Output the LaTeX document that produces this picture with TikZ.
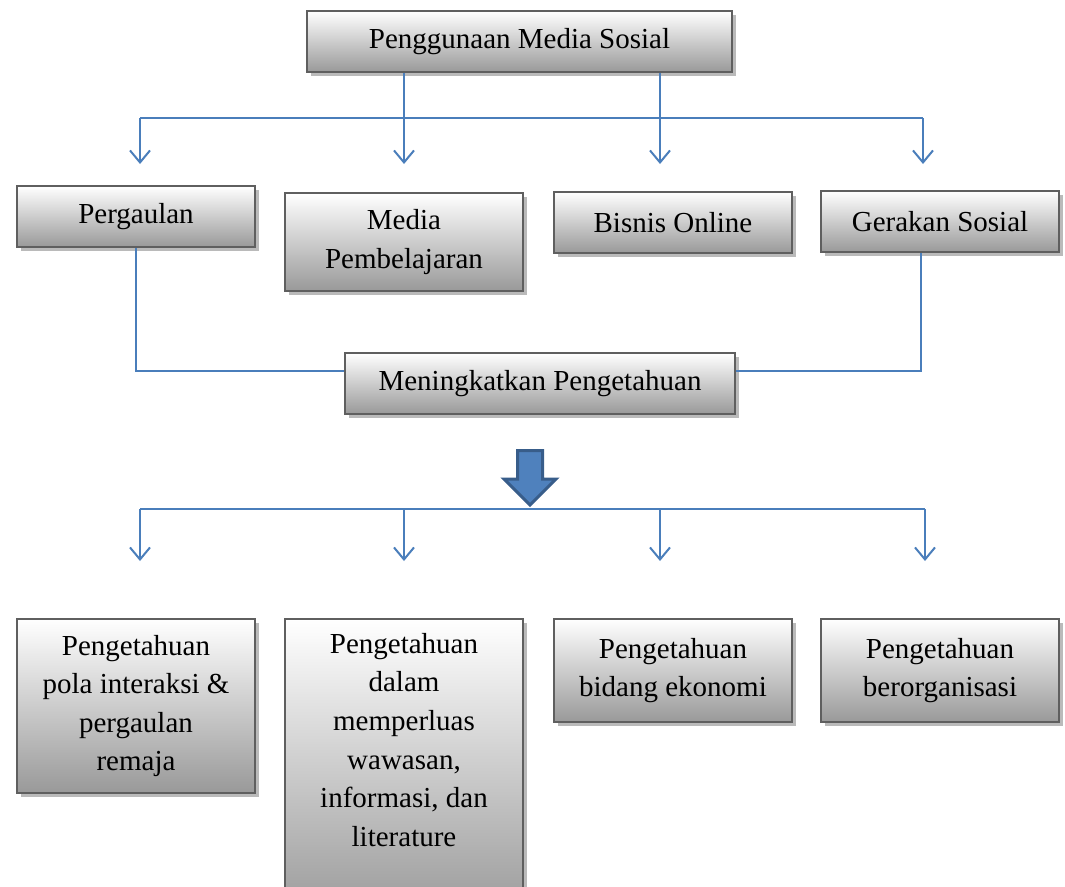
\documentclass[tikz,border=0pt]{standalone}
\usepackage{fontspec}
\setmainfont{Liberation Serif}
\usetikzlibrary{shadows,arrows.meta,calc}
\definecolor{lineblue}{HTML}{4A7EBB}
\definecolor{arrowfill}{HTML}{4F81BD}
\definecolor{arrowedge}{HTML}{385D8A}
\definecolor{boxedge}{HTML}{5F5F5F}
\definecolor{boxbot}{HTML}{999999}
\begin{document}
\begin{tikzpicture}[x=1pt,y=-1pt,
  boxfont/.style={font=\fontsize{29}{38.6}\selectfont},
  box/.style={draw=boxedge, line width=2pt, top color=white, bottom color=boxbot,
    drop shadow={shadow xshift=4pt, shadow yshift=-4pt, fill=black!27, opacity=1},
    minimum width=238pt, align=center, inner sep=4pt, boxfont},
  conn/.style={draw=lineblue, line width=2pt},
  arr/.style={conn, -{Straight Barb[length=12pt,width=20pt]}},
  fatarrow/.style={fill=arrowfill, draw=arrowedge, line width=3pt, line join=miter}
]
\useasboundingbox (0,0) rectangle (1065,886);
\clip (0,0) rectangle (1065,886);

% boxes
\node[box, minimum width=425pt, minimum height=61pt] (top) at (519.5,41.5) {Penggunaan Media Sosial};
\node[box, minimum height=61pt] (perg) at (136,216.5) {Pergaulan};
\node[box, minimum height=98pt] (media) at (404,242) {Media\\Pembelajaran};
\node[box, minimum height=61pt] (bisnis) at (673,222.5) {Bisnis Online};
\node[box, minimum height=61pt] (gerak) at (940,221.5) {Gerakan Sosial};
\node[box, minimum width=390pt, minimum height=61pt] (mening) at (540,383.5) {Meningkatkan Pengetahuan};

\node[box, minimum height=174pt, anchor=north] (k1) at (136,618) {Pengetahuan\\pola interaksi \&\\pergaulan\\remaja};
\node[box, minimum height=300pt, anchor=north] (k2) at (404,618) {};
\node[align=center, inner sep=4pt, boxfont, anchor=north] (t2) at (404,629) {Pengetahuan\\dalam\\memperluas\\wawasan,\\informasi, dan\\literature};
\node[box, minimum height=103pt, anchor=north] (k3) at (673,618) {Pengetahuan\\bidang ekonomi};
\node[box, minimum height=103pt, anchor=north] (k4) at (940,618) {Pengetahuan\\berorganisasi};

% top branching
\coordinate (h1) at (140,118);
\coordinate (h4) at (923,118);
\coordinate (a1) at (140,164);
\coordinate (a2) at (404,164);
\coordinate (a3) at (660,164);
\coordinate (a4) at (923,164);
\draw[conn] (h1) -- (h4);
\draw[arr] (h1) -- (a1);
\draw[arr] (top.south -| a2) -- (a2);
\draw[arr] (top.south -| a3) -- (a3);
\draw[arr] (h4) -- (a4);

% links into Meningkatkan Pengetahuan
\path (mening.west) ++(0,-12.5) coordinate (ml);
\path (mening.east) ++(0,-12.5) coordinate (mr);
\path (gerak.south) ++(-19,0) coordinate (gs);
\draw[conn] (perg.south) |- (ml);
\draw[conn] (gs) |- (mr);

% fat arrow
\draw[fatarrow] (517.5,450.5) -- (542.5,450.5) -- (542.5,479) -- (556,479) -- (530,505) -- (504,479) -- (517.5,479) -- cycle;

% bottom branching
\coordinate (g1) at (140,509);
\coordinate (g2) at (404,509);
\coordinate (g3) at (660,509);
\coordinate (g4) at (925,509);
\coordinate (c1) at (140,561);
\coordinate (c2) at (404,561);
\coordinate (c3) at (660,561);
\coordinate (c4) at (925,561);
\draw[conn] (g1) -- (g4);
\draw[arr] (g1) -- (c1);
\draw[arr] (g2) -- (c2);
\draw[arr] (g3) -- (c3);
\draw[arr] (g4) -- (c4);
\end{tikzpicture}
\end{document}
